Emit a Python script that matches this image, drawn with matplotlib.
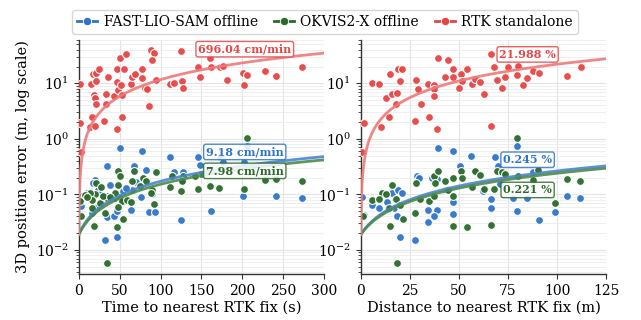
import numpy as np
import matplotlib
matplotlib.use("Agg")
import matplotlib.pyplot as plt

# ---------------- data ----------------
# RTK standalone, left panel (time s, error m)
rtk_t = [1.2, 0.9, 14.7, 15.5, 13.5, 19.6, 17.5, 20.4, 24.5, 20.8, 18.7, 19.6, 20.4, 33.1, 33.1,
         35.1, 31.0, 46.2, 52.3, 43.2, 47.4, 46.5, 51.1, 53.0, 46.5, 49.8, 57.6, 54.7, 63.7, 64.5,
         68.6, 76.8, 77.5, 80.8, 83.3, 85.3, 88.2, 92.2, 89.8, 94.7, 111.8, 116.0, 124.9, 125.8,
         127.7, 145.3, 148.5, 160.4, 161.6, 172.7, 176.3, 180.9, 200.4, 205.3, 202.4, 227.8,
         241.6, 272.7, 2.4]
rtk_te = [9.76, 1.96, 9.76, 2.42, 1.66, 1.71, 14.6, 15.2, 18.2, 11.2, 6.18, 5.4, 4.31, 6.53, 4.31,
          12.9, 2.05, 1.51, 2.46, 5.86, 7.61, 10.7, 9.36, 6.18, 17.9, 28.3, 33.4, 18.2, 9.64, 12.7,
          14.6, 12.4, 18.2, 8.17, 7.93, 3.92, 39.9, 34.8, 26.4, 11.5, 9.64, 10.0, 38.3, 11.0,
          8.17, 20.0, 12.7, 28.3, 20.0, 19.5, 20.8, 11.4, 15.6, 14.2, 9.36, 16.7,
          13.6, 19.2, 0.57]

# FAST-LIO-SAM offline, left panel
fls_t = [50.2, 77.5, 111.8, 145.3, 148.2, 67.7, 82.4, 116.3, 127.3, 127.7, 19.6, 17.5, 13.5, 3.3,
         2.4, 21.7, 16.3, 33.9, 43.2, 46.2, 53.5, 64.5, 75.9, 63.7, 85.7, 93.1, 89.0, 124.9, 31.8,
         46.5, 52.3, 33.9, 2.4, 172.7, 176.7, 202.4, 205.3, 200.4, 241.6, 272.7, 161.6, 33.9,
         9.8, 23.6, 26.0, 58.0, 38.0, 70.0]
fls_te = [0.68, 0.61, 0.48, 0.47, 0.34, 0.32, 0.28, 0.25, 0.25, 0.178, 0.178, 0.16, 0.11, 0.092,
          0.080, 0.059, 0.046, 0.039, 0.041, 0.051, 0.116, 0.121, 0.088, 0.053, 0.049, 0.049, 0.10,
          0.034, 0.0148, 0.0168, 0.073, 0.092, 0.061, 0.48, 0.38, 0.38, 0.73, 0.094, 0.092, 0.086,
          0.051, 0.32, 0.108, 0.121, 0.10, 0.13, 0.15, 0.17]

# OKVIS2-X offline, left panel
okv_t = [205.3, 149.4, 146.1, 160.0, 171.4, 202.4, 227.8, 241.6, 272.7, 48.1, 50.2, 67.7, 93.9,
         64.5, 48.1, 78.7, 81.7, 75.1, 89.8, 88.2, 91.8, 114.2, 127.7, 126.5, 111.4, 124.9, 20.8,
         19.6, 13.5, 15.5, 1.2, 2.4, 15.5, 25.7, 33.9, 44.1, 50.2, 52.3, 58.4, 63.3, 31.8, 47.4,
         54.2, 46.9, 18.7, 33.9, 44.1, 26.9, 142.0, 7.3, 10.0, 29.0, 38.0]
okv_te = [1.03, 0.23, 0.126, 0.143, 0.13, 0.126, 0.178, 0.188, 0.171, 0.258, 0.21, 0.258, 0.248,
          0.176, 0.149, 0.196, 0.171, 0.139, 0.121, 0.105, 0.068, 0.21, 0.21, 0.171, 0.135, 0.116,
          0.16, 0.10, 0.108, 0.08, 0.077, 0.041, 0.057, 0.07, 0.086, 0.086, 0.086, 0.077, 0.08,
          0.074, 0.046, 0.059, 0.036, 0.026, 0.027, 0.0058, 0.105, 0.137, 0.21, 0.098, 0.09,
          0.095, 0.09]

# RTK standalone, right panel (distance m, error m)
rtk_d = [1.8, 5.6, 9.3, 10.3, 12.9, 14.6, 16.1, 18.3, 17.8, 14.3, 18.9, 21.2, 19.9, 28.0, 29.2,
         30.4, 27.8, 34.4, 37.4, 37.5, 37.4, 34.7, 38.9, 39.4, 44.3, 47.2, 43.0, 46.9, 50.8, 51.3,
         49.9, 54.2, 56.4, 58.2, 60.8, 62.8, 66.4, 68.1, 69.3, 71.7, 73.5, 75.2, 80.0, 79.7, 82.6,
         84.6, 87.7, 90.7, 105.0, 112.1, 66.2, 0.8]
rtk_de = [1.92, 10.0, 9.76, 1.62, 5.53, 14.8, 6.37, 6.64, 4.31, 2.42, 17.9, 18.2, 10.9, 11.4, 7.83,
          4.31, 2.05, 9.64, 9.36, 7.93, 5.86, 2.49, 1.51, 28.6, 26.0, 17.9, 12.7, 12.9, 14.6, 11.0,
          8.17, 17.9, 9.64, 11.9, 10.5, 6.37, 33.8, 20.0, 11.5, 8.17, 12.9, 19.2, 20.8, 14.2, 9.36,
          12.4, 16.7, 15.6, 13.6, 19.2, 1.71, 0.57]

# FAST-LIO-SAM offline, right panel
fls_d = [39.2, 47.2, 56.2, 50.6, 28.5, 0.5, 1.8, 5.6, 9.3, 13.2, 16.1, 18.9, 21.2, 17.1, 18.3,
         19.7, 27.8, 34.4, 38.7, 37.5, 34.4, 43.3, 47.2, 47.2, 62.5, 79.8, 68.4, 88.0, 70.1, 71.0,
         66.4, 66.4, 77.8, 84.6, 79.5, 91.0, 99.0, 105.0, 111.9, 62.5, 36.2, 38.7, 29.4]
fls_de = [0.68, 0.61, 0.49, 0.32, 0.21, 0.088, 0.043, 0.065, 0.057, 0.074, 0.105, 0.121, 0.108,
          0.058, 0.040, 0.0168, 0.0148, 0.053, 0.053, 0.041, 0.0318, 0.121, 0.074, 0.0448, 0.121,
          0.73, 0.48, 0.248, 0.33, 0.153, 0.082, 0.057, 0.086, 0.086, 0.051, 0.034, 0.049, 0.092,
          0.086, 0.113, 0.196, 0.19, 0.196]

# OKVIS2-X offline, right panel
okv_d = [16.1, 10.7, 12.9, 5.6, 9.3, 14.4, 17.8, 20.0, 21.4, 14.6, 1.3, 18.3, 28.2, 30.2, 27.7,
         34.8, 37.4, 37.4, 37.9, 39.5, 43.0, 44.6, 46.9, 50.8, 51.5, 47.0, 47.2, 54.2, 56.6, 58.2,
         79.8, 69.3, 71.9, 73.5, 80.0, 90.5, 87.7, 63.0, 68.1, 99.0, 105.0, 111.9, 66.2, 58.2,
         60.8]
okv_de = [0.149, 0.108, 0.103, 0.078, 0.082, 0.057, 0.083, 0.065, 0.036, 0.0265, 0.041, 0.0058,
          0.16, 0.083, 0.047, 0.077, 0.092, 0.21, 0.16, 0.258, 0.176, 0.121, 0.20, 0.258, 0.20,
          0.092, 0.0265, 0.026, 0.135, 0.25, 1.03, 0.258, 0.248, 0.232, 0.21, 0.269, 0.183, 0.125,
          0.126, 0.070, 0.188, 0.171, 0.0284, 0.258, 0.219]

# fitted drift rates (intercept + slope)
fit_intercept = 0.019
rate_time_cm_min = {"FAST-LIO-SAM offline": 9.18, "OKVIS2-X offline": 7.98, "RTK standalone": 696.04}
rate_dist_pct = {"FAST-LIO-SAM offline": 0.245, "OKVIS2-X offline": 0.221, "RTK standalone": 21.988}

names = ["FAST-LIO-SAM offline", "OKVIS2-X offline", "RTK standalone"]
colors = {"FAST-LIO-SAM offline": "#2f74c9", "OKVIS2-X offline": "#2b6a2b", "RTK standalone": "#e64545"}
line_colors = {"FAST-LIO-SAM offline": "#4a86cf", "OKVIS2-X offline": "#4d8a4d", "RTK standalone": "#ee7a7a"}

time_data = {"FAST-LIO-SAM offline": (fls_t, fls_te), "OKVIS2-X offline": (okv_t, okv_te),
             "RTK standalone": (rtk_t, rtk_te)}
dist_data = {"FAST-LIO-SAM offline": (fls_d, fls_de), "OKVIS2-X offline": (okv_d, okv_de),
             "RTK standalone": (rtk_d, rtk_de)}

# label anchor positions (data coords)
time_label_pos = {"FAST-LIO-SAM offline": (203, 0.58), "OKVIS2-X offline": (203, 0.265),
                  "RTK standalone": (203, 41)}
dist_label_pos = {"FAST-LIO-SAM offline": (85, 0.42), "OKVIS2-X offline": (85, 0.12),
                  "RTK standalone": (85, 33)}

plt.rcParams["font.family"] = ["DejaVu Serif"]

fig = plt.figure(figsize=(6.41, 3.2), dpi=100)
ax1 = fig.add_axes([0.123, 0.144, 0.3825, 0.731])
ax2 = fig.add_axes([0.563, 0.144, 0.3825, 0.731])

ylim = (0.0037, 60)

def style(ax, xmax, xticks, xlabel):
    ax.set_yscale("log")
    ax.set_ylim(*ylim)
    ax.set_xlim(0, xmax)
    ax.set_xticks(xticks)
    ax.grid(True, which="major", color="#e3e3e3", linewidth=0.8, zorder=0)
    ax.grid(True, which="minor", axis="y", color="#ececec", linewidth=0.6, zorder=0)
    ax.set_axisbelow(True)
    for s in ["top", "right"]:
        ax.spines[s].set_visible(False)
    for s in ["left", "bottom"]:
        ax.spines[s].set_color("#333333")
        ax.spines[s].set_linewidth(1.0)
    ax.tick_params(axis="both", which="major", labelsize=10, length=3.5, color="#333333")
    ax.tick_params(axis="y", which="minor", length=2, color="#333333")
    ax.set_xlabel(xlabel, fontsize=10.5, labelpad=2)

style(ax1, 300, [0, 50, 100, 150, 200, 250, 300], "Time to nearest RTK fix (s)")
style(ax2, 125, [0, 25, 50, 75, 100, 125], "Distance to nearest RTK fix (m)")
ax1.set_ylabel("3D position error (m, log scale)", fontsize=10.5)

xt = np.linspace(0, 300, 400)
xd = np.linspace(0, 125, 400)

for n in names:
    c = colors[n]
    t, e = time_data[n]
    ax1.scatter(t, e, s=32, color=c, edgecolor="white", linewidth=0.8, alpha=0.95, zorder=3)
    d, de = dist_data[n]
    ax2.scatter(d, de, s=32, color=c, edgecolor="white", linewidth=0.8, alpha=0.95, zorder=3)

for n in names:
    lc = line_colors[n]
    slope_t = rate_time_cm_min[n] / 100.0 / 60.0
    ax1.plot(xt, fit_intercept + slope_t * xt, color=lc, lw=2.0, alpha=0.9, zorder=4)
    slope_d = rate_dist_pct[n] / 100.0
    ax2.plot(xd, fit_intercept + slope_d * xd, color=lc, lw=2.0, alpha=0.9, zorder=4)

for n in names:
    c = colors[n]
    bbox = dict(boxstyle="round,pad=0.2", facecolor="white", edgecolor=c, linewidth=1.0, alpha=0.85)
    x, y = time_label_pos[n]
    ax1.text(x, y, f"{rate_time_cm_min[n]:.2f} cm/min", color=c, fontsize=8, fontweight="bold",
             ha="center", va="center", bbox=bbox, zorder=6)
    x, y = dist_label_pos[n]
    ax2.text(x, y, f"{rate_dist_pct[n]:.3f} %", color=c, fontsize=8, fontweight="bold",
             ha="center", va="center", bbox=bbox, zorder=6)

handles = [plt.Line2D([], [], color=colors[n], marker="o", markersize=6, lw=2,
                      markeredgecolor="white", markeredgewidth=0.6) for n in names]
fig.legend(handles, names, loc="upper center", bbox_to_anchor=(0.507, 0.99), ncol=3,
           fontsize=10, frameon=True, edgecolor="#cccccc", handlelength=1.45, columnspacing=1.15,
           handletextpad=0.45, borderpad=0.35)

fig.savefig("out.png", dpi=100)
